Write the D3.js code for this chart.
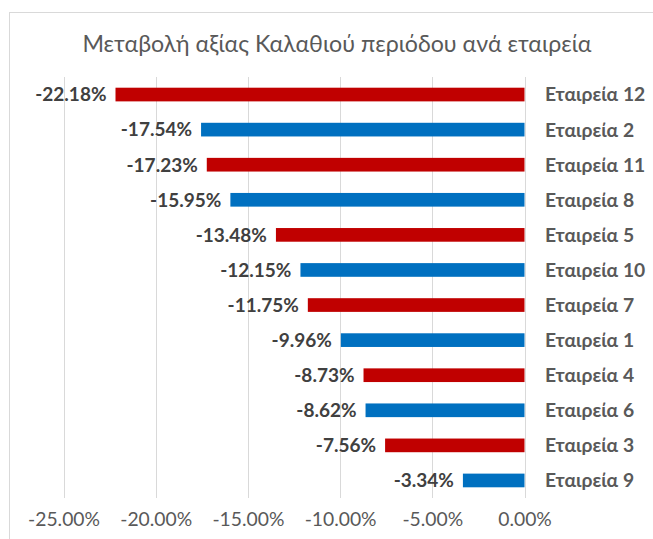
<!DOCTYPE html>
<html><head><meta charset="utf-8">
<script src="https://cdn.jsdelivr.net/npm/d3@7"></script>
<style>body{margin:0;background:#fff}svg{display:block}</style>
</head><body>
<svg id="c" width="653" height="539"></svg>
<script>
const categories = ["Εταιρεία 12","Εταιρεία 2","Εταιρεία 11","Εταιρεία 8","Εταιρεία 5","Εταιρεία 10","Εταιρεία 7","Εταιρεία 1","Εταιρεία 4","Εταιρεία 6","Εταιρεία 3","Εταιρεία 9"];
const values = [-22.18,-17.54,-17.23,-15.95,-13.48,-12.15,-11.75,-9.96,-8.73,-8.62,-7.56,-3.34];
const barColors = ["#C00000","#0070C0","#C00000","#0070C0","#C00000","#0070C0","#C00000","#0070C0","#C00000","#0070C0","#C00000","#0070C0"];
const ticks = [-25,-20,-15,-10,-5,0];
const title = "Μεταβολή αξίας Καλαθιού περιόδου ανά εταιρεία";

const svg = d3.select("#c");
const font = "Lato, 'Open Sans', sans-serif";
const pct = d => d3.format(".2f")(d).replace("\u2212","-") + "%";
const x = d3.scaleLinear().domain([-25,0]).range([63.5,524.5]);
const y = d3.scaleBand().domain(categories).range([77,498]).paddingInner(0.61).paddingOuter(0.305);

svg.append("rect").attr("x",9.5).attr("y",12.5).attr("width",660).attr("height",560)
  .attr("fill","none").attr("stroke","#d9d9d9").attr("stroke-width",1);

svg.append("text").attr("x",337).attr("y",52).attr("text-anchor","middle")
  .attr("font-family",font).attr("font-size",23.2).attr("fill","#595959").text(title);

svg.append("g").selectAll("line").data(ticks).join("line")
  .attr("x1",d=>Math.round(x(d))+0.5).attr("x2",d=>Math.round(x(d))+0.5)
  .attr("y1",77).attr("y2",498).attr("stroke","#d9d9d9").attr("stroke-width",1);

const ax = svg.append("g").attr("transform","translate(0,498)")
  .call(d3.axisBottom(x).tickValues(ticks).tickSize(0).tickPadding(14).tickFormat(pct));
ax.select(".domain").remove();
ax.selectAll("text").attr("font-family",font).attr("font-size",19.3).attr("fill","#595959");

svg.append("g").selectAll("rect").data(values).join("rect")
  .attr("x",d=>x(d)).attr("width",d=>x(0)-x(d))
  .attr("y",(d,i)=>y(categories[i])).attr("height",y.bandwidth())
  .attr("fill",(d,i)=>barColors[i]);

svg.append("g").selectAll("text").data(values).join("text")
  .attr("x",d=>x(d)-9).attr("y",(d,i)=>y(categories[i])+y.bandwidth()/2)
  .attr("dy","0.36em").attr("text-anchor","end")
  .attr("font-family",font).attr("font-weight","bold").attr("font-size",19).attr("fill","#404040")
  .text(pct);

svg.append("g").selectAll("text").data(categories).join("text")
  .attr("x",545).attr("y",d=>y(d)+y.bandwidth()/2).attr("dy","0.36em")
  .attr("font-family",font).attr("font-weight","bold").attr("font-size",19.3).attr("fill","#595959")
  .text(d=>d);
</script>
</body></html>
